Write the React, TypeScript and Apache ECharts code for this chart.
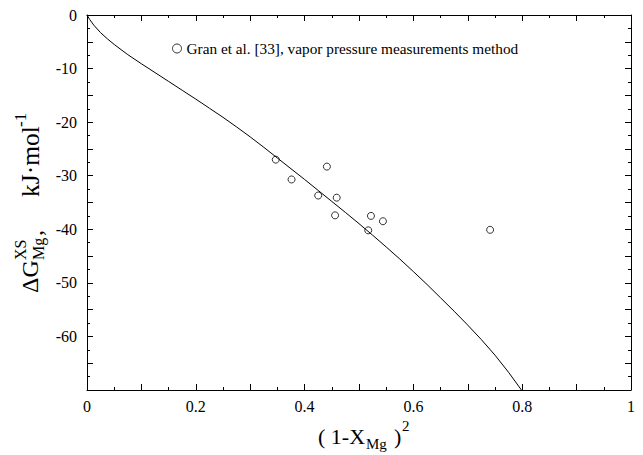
import React, { useEffect, useRef } from "react";
import * as echarts from "echarts";

const seriesName = "Gran et al. [33], vapor pressure measurements method";
const expX = [0.347, 0.376, 0.441, 0.425, 0.459, 0.456, 0.522, 0.544, 0.517, 0.741];
const expY = [-27.0, -30.7, -28.3, -33.7, -34.1, -37.4, -37.5, -38.5, -40.2, -40.1];
const curveX = [
  0, 0.005, 0.0125, 0.025, 0.0375, 0.05, 0.075, 0.1, 0.125, 0.15, 0.175, 0.2, 0.225, 0.25, 0.275, 0.3, 0.325, 0.35, 0.375, 0.4,
  0.425, 0.45, 0.475, 0.5, 0.525, 0.55, 0.575, 0.6, 0.625, 0.65, 0.675, 0.7, 0.725, 0.75, 0.775, 0.8,
];
const curveY = [
  0, -0.85, -1.9, -3.3, -4.45, -5.5, -7.4, -9.1, -10.75, -12.4, -14.05, -15.7, -17.4, -19.1, -20.9, -22.75, -24.7, -26.7, -28.7, -30.7,
  -32.75, -34.8, -36.85, -38.95, -41.1, -43.3, -45.55, -47.9, -50.3, -52.8, -55.3, -57.9, -60.6, -63.5, -66.7, -70.2,
];

const FONT = "Liberation Serif";

export default function App() {
  const ref = useRef<HTMLDivElement>(null);
  useEffect(() => {
    if (!ref.current) return;
    const chart = echarts.init(ref.current, null, { renderer: "svg" });
    const axisCommon = {
      axisLine: { show: true, onZero: false, lineStyle: { color: "#000", width: 1 } },
      axisTick: { show: true, inside: true, length: 6, lineStyle: { color: "#000" } },
      minorTick: { show: true, splitNumber: 2, length: 3, lineStyle: { color: "#000" } },
      splitLine: { show: false },
    };
    const xFmt = (v: number) => {
      const k = Math.round(v * 10);
      if (k % 2 !== 0) return "";
      if (k === 0) return "0";
      if (k === 10) return "1";
      return (k / 10).toFixed(1);
    };
    const yFmt = (v: number) => {
      const k = Math.round(v);
      if (k % 10 !== 0 || k === -70) return "";
      return String(k);
    };
    const txt = (text: string, x: number, y: number, size: number) => ({
      type: "text",
      x,
      y,
      style: { text, font: `${size}px "${FONT}", serif`, fill: "#000", align: "left", verticalAlign: "middle" },
    });
    chart.setOption({
      animation: false,
      backgroundColor: "#fff",
      textStyle: { fontFamily: FONT },
      grid: { left: 87, right: 12, top: 15, bottom: 65, containLabel: false },
      legend: {
        show: true,
        left: 167,
        top: 36,
        icon: "circle",
        itemWidth: 9,
        itemHeight: 9,
        itemGap: 4,
        textStyle: { fontFamily: FONT, fontSize: 15.3, color: "#000" },
        data: [
          {
            name: seriesName,
            icon: "circle",
            itemStyle: { color: "#fff", borderColor: "#000", borderWidth: 1 },
          },
        ],
      },
      xAxis: [
        {
          type: "value",
          min: 0,
          max: 1,
          interval: 0.1,
          position: "bottom",
          ...axisCommon,
          axisLabel: {
            show: true,
            formatter: xFmt,
            showMaxLabel: true,
            showMinLabel: true,
            color: "#000",
            fontSize: 16,
            fontFamily: FONT,
            margin: 8,
          },
        },
        {
          type: "value",
          min: 0,
          max: 1,
          interval: 0.1,
          position: "top",
          ...axisCommon,
          axisLabel: { show: false },
        },
      ],
      yAxis: [
        {
          type: "value",
          min: -70,
          max: 0,
          interval: 5,
          position: "left",
          ...axisCommon,
          axisLabel: {
            show: true,
            formatter: yFmt,
            color: "#000",
            fontSize: 16,
            fontFamily: FONT,
            margin: 10,
          },
        },
        {
          type: "value",
          min: -70,
          max: 0,
          interval: 5,
          position: "right",
          ...axisCommon,
          axisLabel: { show: false },
        },
      ],
      series: [
        {
          name: "curve",
          type: "line",
          data: curveX.map((x, i) => [x, curveY[i]]),
          showSymbol: false,
          symbol: "none",
          smooth: false,
          lineStyle: { color: "#000", width: 1 },
          clip: true,
          silent: true,
        },
        {
          name: seriesName,
          type: "scatter",
          data: expX.map((x, i) => [x, expY[i]]),
          symbol: "circle",
          symbolSize: 7,
          itemStyle: { color: "#fff", borderColor: "#000", borderWidth: 1 },
        },
      ],
      graphic: [
        {
          type: "group",
          x: 30,
          y: 293,
          rotation: Math.PI / 2,
          children: [
            txt("ΔG", 0, 0, 24),
            txt("XS", 33, -10, 16),
            txt("Mg", 33, 8, 16),
            txt(",", 57, 4, 24),
            txt("kJ·mol", 96, 0, 25.5),
            txt("-1", 166, -10, 17),
          ],
        },
        {
          type: "group",
          x: 318,
          y: 436,
          children: [
            txt("( 1-X", 0, 0, 22),
            txt("Mg", 48, 8, 15),
            txt(")", 76, 0, 22),
            txt("2", 84, -10, 15),
          ],
        },
      ],
    });
    return () => chart.dispose();
  }, []);
  return (
    <div
      ref={ref}
      style={{ position: "absolute", left: 0, top: 0, width: 643, height: 455 }}
    />
  );
}
